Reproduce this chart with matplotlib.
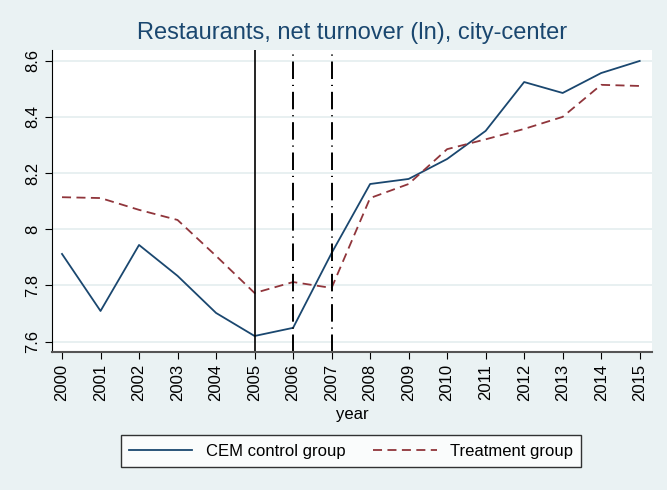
import matplotlib
matplotlib.use("Agg")
import matplotlib.pyplot as plt

# Data
years = list(range(2000, 2016))
cem_control = [7.912, 7.709, 7.944, 7.834, 7.702, 7.620, 7.649, 7.915,
               8.161, 8.179, 8.250, 8.350, 8.524, 8.485, 8.556, 8.599]
treatment = [8.114, 8.111, 8.069, 8.033, 7.905, 7.773, 7.812, 7.791,
             8.111, 8.161, 8.285, 8.320, 8.357, 8.400, 8.514, 8.510]
y_ticks = [7.6, 7.8, 8.0, 8.2, 8.4, 8.6]
y_tick_labels = ["7.6", "7.8", "8", "8.2", "8.4", "8.6"]

plt.rcParams['font.family'] = ['Liberation Sans', 'DejaVu Sans']

BG = "#EAF2F3"
NAVY = "#1A476F"
MAROON = "#90353B"

fig = plt.figure(figsize=(6.67, 4.9), dpi=100, facecolor=BG)
ax = fig.add_axes([52 / 667, 1 - 352 / 490, 600 / 667, 302 / 490])
ax.set_facecolor("white")

ax.plot(years, cem_control, color=NAVY, lw=1.3, label="CEM control group")
ax.plot(years, treatment, color=MAROON, lw=1.3, linestyle=(0, (5, 3)),
        label="Treatment group")

# Reference lines
ax.axvline(2005, color="black", lw=1.2)
for yr in (2006, 2007):
    ax.axvline(yr, color="black", lw=1.4, linestyle=(0, (9, 3, 0.6, 3)))

ax.set_xlim(1999.74, 2015.32)
ax.set_ylim(7.563, 8.638)
ax.set_xticks(years)
ax.set_xticklabels([str(y) for y in years], rotation=90, fontsize=12)
ax.set_yticks(y_ticks)
ax.set_yticklabels(y_tick_labels, rotation=90, va="center", fontsize=12)
ax.grid(axis="y", color="#E4EDEF", lw=1.2)
ax.set_axisbelow(True)

for side in ("top", "right"):
    ax.spines[side].set_visible(False)
ax.spines["left"].set_color("black")
ax.spines["bottom"].set_color("#555555")
ax.spines["bottom"].set_linewidth(1.5)
ax.tick_params(length=5, color="black")

ax.set_xlabel("year", fontsize=12, labelpad=4)
fig.text(352 / 667, 1 - 33 / 490, "Restaurants, net turnover (ln), city-center",
         ha="center", va="center", fontsize=17, color=NAVY)

leg = fig.legend(loc="center", bbox_to_anchor=(351 / 667, 1 - 451 / 490), ncol=2,
                 fontsize=12, frameon=True, fancybox=False, handlelength=3.8,
                 columnspacing=1.7, borderpad=0.5)
leg.get_frame().set_edgecolor("black")
leg.get_frame().set_linewidth(1.0)

plt.savefig("out.png", dpi=100, facecolor=BG)
